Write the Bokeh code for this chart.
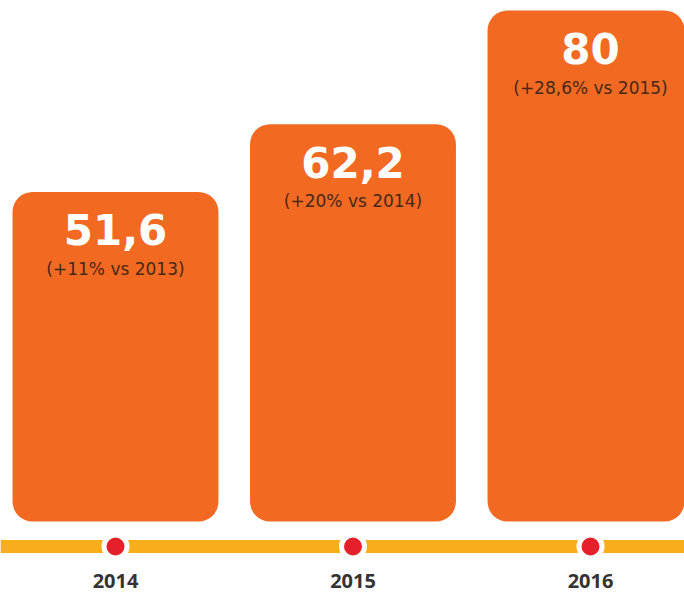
from bokeh.plotting import figure
from bokeh.models import Range1d, Span, ColumnDataSource
from bokeh.core.properties import value
from bokeh.embed import file_html
from bokeh.resources import INLINE

years = ["2014", "2015", "2016"]
values = [51.6, 62.2, 80.0]
value_labels = ["51,6", "62,2", "80"]
change_labels = ["(+11% vs 2013)", "(+20% vs 2014)", "(+28,6% vs 2015)"]
xpos = [0, 1, 2]

BAR = "#F26A22"
LINE = "#F8AD1B"
DOT = "#E5202A"

LINE_Y = -3.914
LABEL_Y = -9.393

p = figure(width=684, height=593, output_backend="svg", toolbar_location=None,
           x_range=Range1d(-0.4842, 2.3958), y_range=Range1d(-11.272, 81.566),
           min_border=0, outline_line_color=None, background_fill_color="white",
           border_fill_color="white")
p.axis.visible = False
p.grid.visible = False

src = ColumnDataSource(dict(x=xpos, top=values, vl=value_labels, cl=change_labels,
                            yr=years, ly=[LINE_Y] * 3, ty=[LABEL_Y] * 3))

p.add_layout(Span(location=LINE_Y, dimension="width", line_color=LINE, line_width=13,
                  level="underlay"))

p.vbar(x="x", top="top", bottom=0, width=0.867, source=src, fill_color=BAR,
       line_color=None, border_radius=20)

p.scatter(x="x", y="ly", source=src, size=23, fill_color=DOT, line_color="white",
          line_width=5)

p.text(x="x", y="top", text="vl", source=src, y_offset=38, text_align="center",
       text_baseline="middle", text_color="white", text_font=value("DejaVu Sans"),
       text_font_style="bold", text_font_size="42px")
p.text(x="x", y="top", text="cl", source=src, y_offset=77, text_align="center",
       text_baseline="middle", text_color="#45281A", text_font=value("DejaVu Sans"),
       text_font_size="17px")
p.text(x="x", y="ty", text="yr", source=src, text_align="center",
       text_baseline="middle", text_color="#333333", text_font=value("Open Sans"),
       text_font_style="bold", text_font_size="20px")

open("out.html", "w").write(file_html(p, INLINE))
